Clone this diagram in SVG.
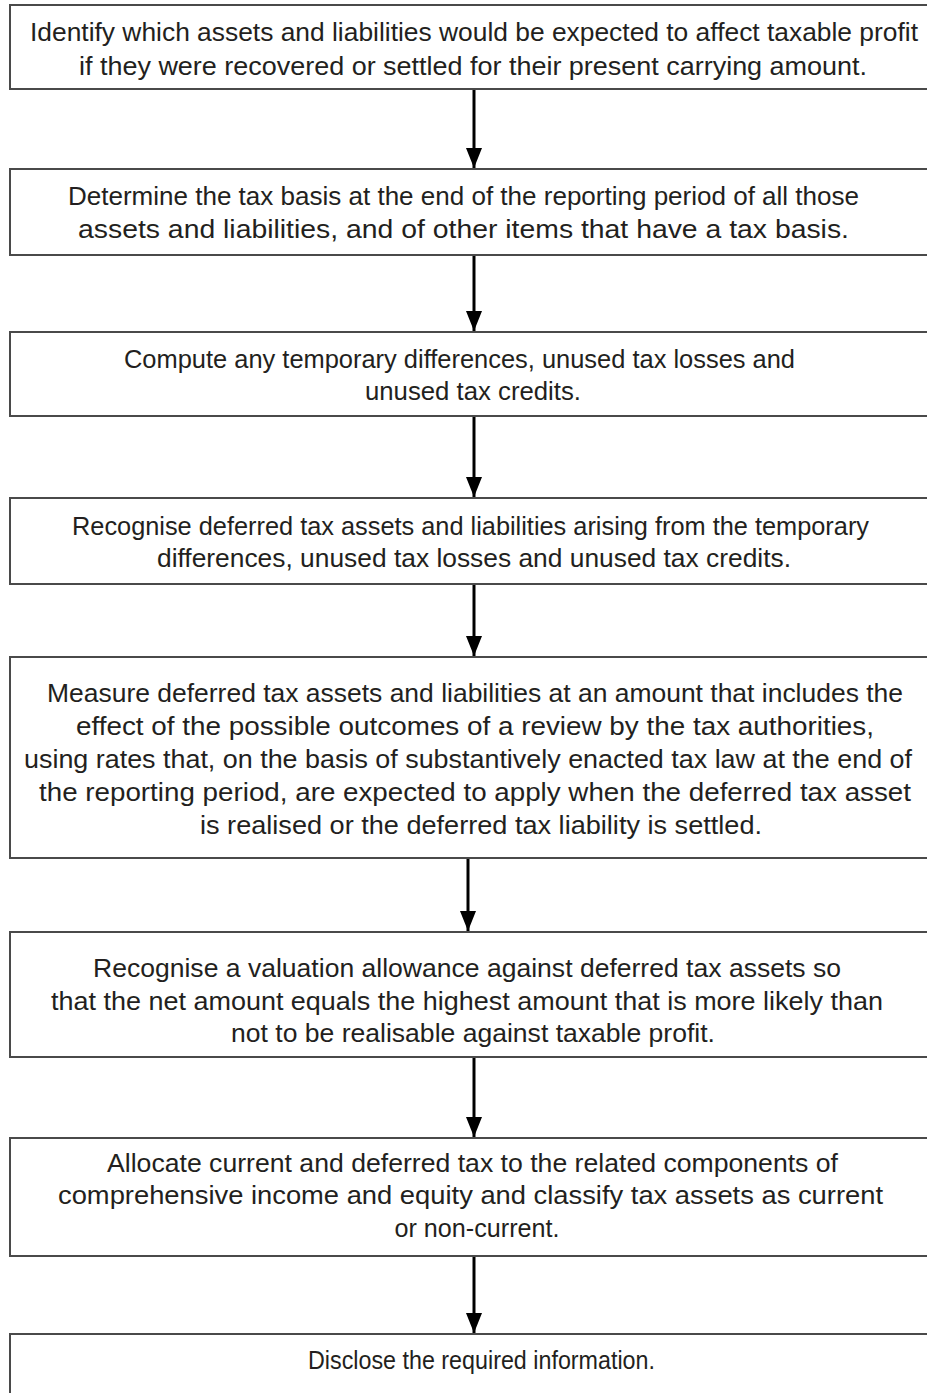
<svg xmlns="http://www.w3.org/2000/svg" width="927" height="1393" viewBox="0 0 927 1393">
<style>
.box{fill:#fff;stroke:#4a4a4a;stroke-width:2}
.t{font-family:"Liberation Sans",Arial,sans-serif;font-size:26px;fill:#231f20;text-anchor:middle}
.c{stroke:#000;stroke-width:3;fill:none}
</style>
<defs>
<marker id="ah" markerWidth="20" markerHeight="16" refX="20" refY="8" orient="auto" markerUnits="userSpaceOnUse">
<path d="M0,0 L20,8 L0,16 Z" fill="#000"/>
</marker>
</defs>
<rect width="927" height="1393" fill="#fff"/>
<g id="connectors">
<line class="c" x1="474" y1="89" x2="474" y2="168" marker-end="url(#ah)"/>
<line class="c" x1="474" y1="255" x2="474" y2="331" marker-end="url(#ah)"/>
<line class="c" x1="474" y1="416" x2="474" y2="497" marker-end="url(#ah)"/>
<line class="c" x1="474" y1="584" x2="474" y2="656" marker-end="url(#ah)"/>
<line class="c" x1="468" y1="858" x2="468" y2="931" marker-end="url(#ah)"/>
<line class="c" x1="474" y1="1057" x2="474" y2="1137" marker-end="url(#ah)"/>
<line class="c" x1="474" y1="1256" x2="474" y2="1333" marker-end="url(#ah)"/>
</g>
<g id="n1">
<rect class="box" x="10" y="5" width="930" height="84"/>
<text class="t" x="474" y="41" textLength="888" lengthAdjust="spacingAndGlyphs">Identify which assets and liabilities would be expected to affect taxable profit</text>
<text class="t" x="473" y="75" textLength="788" lengthAdjust="spacingAndGlyphs">if they were recovered or settled for their present carrying amount.</text>
</g>
<g id="n2">
<rect class="box" x="10" y="169" width="930" height="86"/>
<text class="t" x="463.5" y="205" textLength="791" lengthAdjust="spacingAndGlyphs">Determine the tax basis at the end of the reporting period of all those</text>
<text class="t" x="463.5" y="238" textLength="771" lengthAdjust="spacingAndGlyphs">assets and liabilities, and of other items that have a tax basis.</text>
</g>
<g id="n3">
<rect class="box" x="10" y="332" width="930" height="84"/>
<text class="t" x="459.5" y="368" textLength="671" lengthAdjust="spacingAndGlyphs">Compute any temporary differences, unused tax losses and</text>
<text class="t" x="473" y="400" textLength="216" lengthAdjust="spacingAndGlyphs">unused tax credits.</text>
</g>
<g id="n4">
<rect class="box" x="10" y="498" width="930" height="86"/>
<text class="t" x="470.5" y="535" textLength="797" lengthAdjust="spacingAndGlyphs">Recognise deferred tax assets and liabilities arising from the temporary</text>
<text class="t" x="474" y="567" textLength="634" lengthAdjust="spacingAndGlyphs">differences, unused tax losses and unused tax credits.</text>
</g>
<g id="n5">
<rect class="box" x="10" y="657" width="930" height="201"/>
<text class="t" x="475" y="702" textLength="856" lengthAdjust="spacingAndGlyphs">Measure deferred tax assets and liabilities at an amount that includes the</text>
<text class="t" x="475" y="735" textLength="798" lengthAdjust="spacingAndGlyphs">effect of the possible outcomes of a review by the tax authorities,</text>
<text class="t" x="468" y="768" textLength="888" lengthAdjust="spacingAndGlyphs">using rates that, on the basis of substantively enacted tax law at the end of</text>
<text class="t" x="475" y="801" textLength="872" lengthAdjust="spacingAndGlyphs">the reporting period, are expected to apply when the deferred tax asset</text>
<text class="t" x="481" y="834" textLength="562" lengthAdjust="spacingAndGlyphs">is realised or the deferred tax liability is settled.</text>
</g>
<g id="n6">
<rect class="box" x="10" y="932" width="930" height="125"/>
<text class="t" x="467" y="977" textLength="748" lengthAdjust="spacingAndGlyphs">Recognise a valuation allowance against deferred tax assets so</text>
<text class="t" x="467" y="1010" textLength="832" lengthAdjust="spacingAndGlyphs">that the net amount equals the highest amount that is more likely than</text>
<text class="t" x="473" y="1042" textLength="484" lengthAdjust="spacingAndGlyphs">not to be realisable against taxable profit.</text>
</g>
<g id="n7">
<rect class="box" x="10" y="1138" width="930" height="118"/>
<text class="t" x="472.5" y="1172" textLength="731" lengthAdjust="spacingAndGlyphs">Allocate current and deferred tax to the related components of</text>
<text class="t" x="470.5" y="1204" textLength="825" lengthAdjust="spacingAndGlyphs">comprehensive income and equity and classify tax assets as current</text>
<text class="t" x="477" y="1237" textLength="165" lengthAdjust="spacingAndGlyphs">or non-current.</text>
</g>
<g id="n8">
<rect class="box" x="10" y="1334" width="930" height="80"/>
<text class="t" x="481.5" y="1369" textLength="347" lengthAdjust="spacingAndGlyphs">Disclose the required information.</text>
</g>
</svg>
